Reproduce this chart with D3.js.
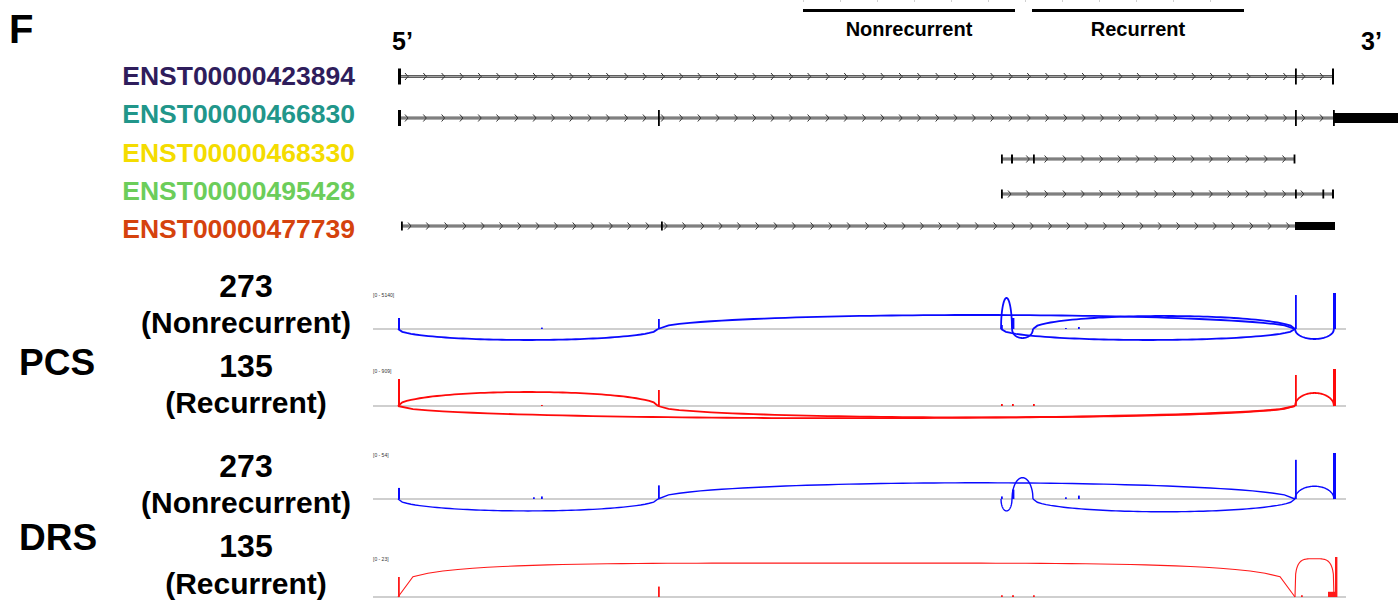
<!DOCTYPE html>
<html>
<head>
<meta charset="utf-8">
<script src="https://cdn.jsdelivr.net/npm/d3@7"></script>
<style>
  body { margin: 0; background: #fff; }
  svg { display: block; font-family: "Liberation Sans", Arial, sans-serif; font-weight: bold; }
</style>
</head>
<body>
<svg id="svg" width="1398" height="600"></svg>
<script>
// all positions are kb from the 5' end of the locus

const transcriptIds = ['ENST00000423894', 'ENST00000466830', 'ENST00000468330', 'ENST00000495428', 'ENST00000477739'];
const transcriptColors = ['#2f1d5c', '#21968a', '#f4dc00', '#6ccd5a', '#d5420d'];
const transcriptSpans = [[0, 46.8], [0, 46.8], [30.15, 44.8], [30.15, 46.8], [0.15, 44.85]];
const transcriptExons = [
    [[0, 0.15], [44.85, 44.9], [46.7, 46.8]],
    [[0, 0.15], [13.0, 13.05], [44.85, 44.9], [46.75, 46.8], [46.8, 50.5]],
    [[30.15, 30.2], [30.65, 30.75], [31.75, 31.8], [44.78, 44.83]],
    [[30.15, 30.2], [44.85, 44.9], [46.22, 46.3], [46.7, 46.8]],
    [[0.15, 0.2], [13.15, 13.2], [44.85, 46.85]]
];

const groupNames = ['Nonrecurrent', 'Recurrent'];
const groupSpans = [[20.25, 30.85], [31.7, 42.3]];

const sampleTypes = ['PCS', 'DRS'];
const sampleGroups = ['(Nonrecurrent)', '(Recurrent)'];
const sampleCounts = [273, 135];

// sashimi tracks: data range max of each track
const trackMax = [5140, 909, 54, 23];

// coverage bars: [position, width, depth]
const coveragePcsNon = [[0, 0.1, 1570], [7.15, 0.05, 200], [13.0, 0.08, 1430], [30.15, 0.05, 570], [30.7, 0.12, 1570],
    [33.35, 0.05, 140], [34.0, 0.05, 290], [44.85, 0.08, 4850], [46.75, 0.15, 5140]];
const coveragePcsRec = [[0, 0.1, 663], [7.15, 0.05, 25], [13.0, 0.08, 393], [30.15, 0.05, 49], [30.7, 0.05, 49],
    [31.75, 0.05, 49], [44.85, 0.08, 762], [46.75, 0.15, 909]];
const coverageDrsNon = [[0, 0.1, 13], [6.75, 0.05, 2], [7.15, 0.05, 3], [13.0, 0.08, 16], [30.15, 0.05, 3], [30.7, 0.12, 11],
    [33.35, 0.05, 2], [34.0, 0.08, 4], [44.85, 0.08, 46], [46.75, 0.15, 54]];
const coverageDrsRec = [[0, 0.08, 11.5], [13.0, 0.08, 6], [30.15, 0.05, 1], [30.7, 0.1, 1], [31.75, 0.05, 1],
    [45.15, 0.05, 1], [46.5, 0.4, 3], [46.85, 0.12, 23]];

// splice junctions: [from, to, reads, side (1 above, -1 below)]
const junctionsPcsNon = [[0, 13.0, 1570, -1], [13.0, 44.85, 2000, 1], [30.15, 30.7, 4430, 1], [30.7, 31.75, 1290, -1],
    [31.75, 44.85, 1860, 1], [30.15, 44.85, 1570, -1], [44.85, 46.8, 1430, -1]];
const junctionsPcsRec = [[0, 13.0, 344, 1], [0, 44.85, 300, -1], [13.0, 44.85, 280, -1], [44.85, 46.8, 320, 1]];
const junctionsDrsNon = [[0, 13.0, 14, -1], [13.0, 44.85, 19, 1], [30.15, 30.7, 14, -1], [30.7, 31.75, 25, 1],
    [31.75, 44.85, 15, -1], [44.85, 46.8, 15, 1]];
const junctionsDrsRec = [[0, 44.85, 19.5, 1], [44.85, 46.8, 22, 1]];

const svg = d3.select('#svg');
const x = d3.scaleLinear().domain([0, 46.8]).range([398, 1334]);

// panel letter, strand ends
svg.append('text').attr('x', 9).attr('y', 43).style('font-size', '40px').text('F');
svg.append('text').attr('x', 392).attr('y', 50).style('font-size', '25px').text('5\u2019');
svg.append('text').attr('x', 1361).attr('y', 50).style('font-size', '25px').text('3\u2019');

// cut-off scale ticks at the very top
const topAxis = svg.append('g')
    .attr('transform', 'translate(0,-1)')
    .call(d3.axisBottom(x).tickValues(d3.range(20.25, 42.4, 1.85)).tickSize(3).tickFormat(''));
topAxis.select('.domain').remove();
topAxis.selectAll('line').attr('stroke', '#d0d0d0');

// group bars
groupSpans.forEach((s, i) => {
    svg.append('line')
        .attr('x1', x(s[0])).attr('x2', x(s[1]))
        .attr('y1', 10.5).attr('y2', 10.5)
        .attr('stroke', '#000').attr('stroke-width', 3);
    svg.append('text')
        .attr('x', (x(s[0]) + x(s[1])) / 2).attr('y', 36)
        .attr('text-anchor', 'middle')
        .style('font-size', '20px')
        .text(groupNames[i]);
});

// transcript models
const rowY = [76.5, 118, 159, 194, 226];
const labelY = [85, 123.3, 161.7, 200, 238.3];
const tickH = [16, 16, 9, 9, 9];
const blockH = [10, 10, 8, 8, 8];

transcriptIds.forEach((id, i) => {
    svg.append('text')
        .attr('x', 355).attr('y', labelY[i])
        .attr('text-anchor', 'end')
        .style('font-size', '26.5px')
        .attr('fill', transcriptColors[i])
        .text(id);

    const y = rowY[i];
    const g = svg.append('g');
    const s = transcriptSpans[i];
    g.append('line')
        .attr('x1', x(s[0])).attr('x2', x(s[1]))
        .attr('y1', y).attr('y2', y)
        .attr('stroke', '#5e5e5e').attr('stroke-width', 2.8);
    g.append('line')
        .attr('x1', x(s[0])).attr('x2', x(s[1]))
        .attr('y1', y).attr('y2', y)
        .attr('stroke', '#b4b4b4').attr('stroke-width', 0.8);

    const edges = transcriptExons[i].flatMap(e => [x(e[0]), x(e[1])]);
    const chevrons = d3.range(x(s[0]) + 9, x(s[1]) - 4, 18.3)
        .filter(p => edges.every(e => Math.abs(e - p) > 4));
    g.selectAll('.chev').data(chevrons).join('path')
        .attr('d', p => `M${p - 2},${y - 3.5}L${p + 1},${y}L${p - 2},${y + 3.5}`)
        .attr('fill', 'none').attr('stroke', '#333').attr('stroke-width', 1);

    g.selectAll('.exon').data(transcriptExons[i]).join('rect')
        .attr('x', e => x(e[0]))
        .attr('width', e => Math.max(1.8, x(e[1]) - x(e[0])))
        .attr('y', e => y - ((x(e[1]) - x(e[0]) > 6) ? blockH[i] : tickH[i]) / 2)
        .attr('height', e => (x(e[1]) - x(e[0]) > 6) ? blockH[i] : tickH[i])
        .attr('fill', '#000');
});

// sample labels
const countY = [[296.7, 333], [376.7, 413], [476.7, 513], [556.7, 593.5]];
const typeY = [375, 550];
sampleTypes.forEach((t, i) => {
    svg.append('text').attr('x', 19).attr('y', typeY[i]).style('font-size', '37px').text(t);
    sampleGroups.forEach((grp, j) => {
        const yy = countY[i * 2 + j];
        svg.append('text').attr('x', 246).attr('y', yy[0]).attr('text-anchor', 'middle')
            .style('font-size', '32px').text(sampleCounts[j]);
        svg.append('text').attr('x', 246).attr('y', yy[1]).attr('text-anchor', 'middle')
            .style('font-size', '30px').text(grp);
    });
});

// sashimi tracks
const tracks = [
    { cov: coveragePcsNon, jun: junctionsPcsNon, base: 329, h: 36, color: '#0a0aff', lw: 1.8, shape: 2 },
    { cov: coveragePcsRec, jun: junctionsPcsRec, base: 406, h: 37, color: '#ff0a0a', lw: 1.8, shape: 2 },
    { cov: coverageDrsNon, jun: junctionsDrsNon, base: 499, h: 46, color: '#0a0aff', lw: 1.4, shape: 2 },
    { cov: coverageDrsRec, jun: junctionsDrsRec, base: 597, h: 40, color: '#ff1a1a', lw: 1.1, shape: 4 }
];

tracks.forEach((t, i) => {
    const hy = d3.scaleLinear().domain([0, trackMax[i]]).range([0, t.h]);
    const g = svg.append('g');

    g.append('text')
        .attr('x', 373).attr('y', t.base - t.h + 4)
        .style('font-size', '5px').style('font-weight', 'normal')
        .attr('fill', '#333')
        .text(`[0 - ${trackMax[i]}]`);

    g.append('line')
        .attr('x1', 373).attr('x2', 1346)
        .attr('y1', t.base).attr('y2', t.base)
        .attr('stroke', '#a0a0a0').attr('stroke-width', 1.2);

    const arc = d3.line();
    g.selectAll('.junction').data(t.jun).join('path')
        .attr('d', j => {
            const pts = d3.range(0, 61).map(k => {
                const u = k / 60;
                const f = Math.pow(1 - Math.pow(Math.abs(2 * u - 1), t.shape), 1 / t.shape);
                return [x(j[0]) + u * (x(j[1]) - x(j[0])), t.base - j[3] * hy(j[2]) * f];
            });
            return arc(pts);
        })
        .attr('fill', 'none')
        .attr('stroke', t.color)
        .attr('stroke-width', t.lw);

    g.selectAll('.cov').data(t.cov).join('rect')
        .attr('x', c => x(c[0]))
        .attr('width', c => Math.max(1.8, x(c[0] + c[1]) - x(c[0])))
        .attr('y', c => t.base - hy(c[2]))
        .attr('height', c => hy(c[2]))
        .attr('fill', t.color);
});
</script>
</body>
</html>
